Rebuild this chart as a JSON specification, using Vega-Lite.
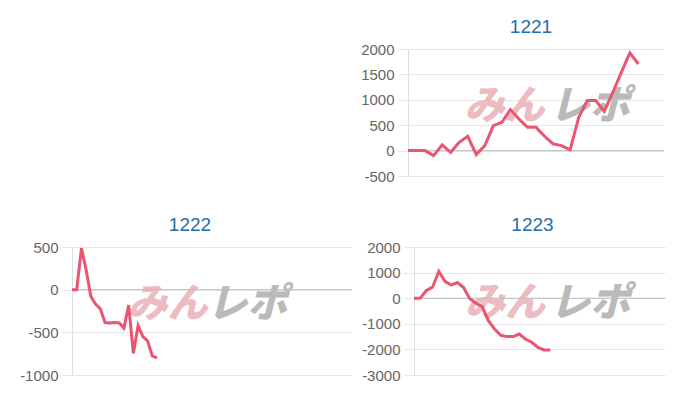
{
  "$schema": "https://vega.github.io/schema/vega-lite/v6.json",
  "background": "white",
  "padding": {"left": 19, "top": 17, "right": 5, "bottom": 5},
  "config": {
    "view": {"stroke": null},
    "axis": {
      "labelFont": "Liberation Sans",
      "labelFontSize": 15,
      "labelColor": "#666666",
      "domainColor": "#dedede",
      "gridColor": "#e6e6e6",
      "tickColor": "#e6e6e6",
      "grid": true,
      "tickSize": 10,
      "labelPadding": 4,
      "labelOverlap": false,
      "labelExpr": "'' + datum.value",
      "title": null
    },
    "title": {
      "font": "Liberation Sans",
      "fontSize": 19,
      "fontWeight": "normal",
      "color": "#1e6fab",
      "baseline": "alphabetic",
      "offset": 5.5,
      "frame": "group",
      "anchor": "middle"
    }
  },
  "datasets": {
    "d1221": [
      {"i": 0, "v": 0}, {"i": 1, "v": 0}, {"i": 2, "v": 0}, {"i": 3, "v": -98},
      {"i": 4, "v": 111}, {"i": 5, "v": -33}, {"i": 6, "v": 164}, {"i": 7, "v": 282},
      {"i": 8, "v": -79}, {"i": 9, "v": 98}, {"i": 10, "v": 492}, {"i": 11, "v": 557},
      {"i": 12, "v": 807}, {"i": 13, "v": 623}, {"i": 14, "v": 459}, {"i": 15, "v": 459},
      {"i": 16, "v": 282}, {"i": 17, "v": 131}, {"i": 18, "v": 98}, {"i": 19, "v": 13},
      {"i": 20, "v": 650}, {"i": 21, "v": 984}, {"i": 22, "v": 984}, {"i": 23, "v": 770},
      {"i": 24, "v": 1148}, {"i": 25, "v": 1541}, {"i": 26, "v": 1921}, {"i": 27, "v": 1705}
    ],
    "d1222": [
      {"i": 0, "v": 0}, {"i": 1, "v": 0}, {"i": 2, "v": 485}, {"i": 3, "v": 230},
      {"i": 4, "v": -80}, {"i": 5, "v": -170}, {"i": 6, "v": -225}, {"i": 7, "v": -385},
      {"i": 8, "v": -390}, {"i": 9, "v": -385}, {"i": 10, "v": -390}, {"i": 11, "v": -450},
      {"i": 12, "v": -180}, {"i": 13, "v": -745}, {"i": 14, "v": -420}, {"i": 15, "v": -550},
      {"i": 16, "v": -600}, {"i": 17, "v": -775}, {"i": 18, "v": -800}
    ],
    "d1223": [
      {"i": 0, "v": 0}, {"i": 1, "v": 0}, {"i": 2, "v": 300}, {"i": 3, "v": 430},
      {"i": 4, "v": 1050}, {"i": 5, "v": 660}, {"i": 6, "v": 510}, {"i": 7, "v": 610},
      {"i": 8, "v": 420}, {"i": 9, "v": -20}, {"i": 10, "v": -200}, {"i": 11, "v": -330},
      {"i": 12, "v": -880}, {"i": 13, "v": -1200}, {"i": 14, "v": -1450}, {"i": 15, "v": -1500},
      {"i": 16, "v": -1500}, {"i": 17, "v": -1400}, {"i": 18, "v": -1600}, {"i": 19, "v": -1720},
      {"i": 20, "v": -1920}, {"i": 21, "v": -2020}, {"i": 22, "v": -2020}
    ]
  },
  "spacing": 31,
  "vconcat": [
    {
      "spacing": 8,
      "hconcat": [
        {
          "width": 280,
          "height": 127,
          "view": {"fill": "white", "stroke": null},
          "data": {"values": [{}]},
          "mark": {"type": "point", "opacity": 0},
          "encoding": {}
        },
        {
          "width": 256,
          "height": 127,
          "title": {"text": "1221", "dx": -5},
          "layer": [
            {
              "data": {"values": [{}]},
              "mark": {"type": "text", "color": "#ecbcc0", "font": "Noto Sans CJK JP", "fontSize": 40, "fontWeight": 900, "fontStyle": "italic", "align": "center", "baseline": "middle"},
              "encoding": {
                "x": {"datum": 11.3, "type": "quantitative", "scale": {"domain": [0, 30], "nice": false, "zero": false}, "axis": null},
                "y": {"datum": 860, "type": "quantitative", "scale": {"domain": [-500, 2000], "nice": false}, "axis": {"values": [-500, 0, 500, 1000, 1500, 2000], "labelOverlap": false}},
                "text": {"value": "みん"}
              }
            },
            {
              "data": {"values": [{}]},
              "mark": {"type": "text", "color": "#bababa", "font": "Noto Sans CJK JP", "fontSize": 40, "fontWeight": 900, "fontStyle": "italic", "align": "center", "baseline": "middle"},
              "encoding": {
                "x": {"datum": 21.3, "type": "quantitative", "scale": {"domain": [0, 30], "nice": false, "zero": false}, "axis": null},
                "y": {"datum": 860, "type": "quantitative", "scale": {"domain": [-500, 2000], "nice": false}, "axis": {"values": [-500, 0, 500, 1000, 1500, 2000], "labelOverlap": false}},
                "text": {"value": "レポ"}
              }
            },
            {
              "data": {"values": [{}]},
              "mark": {"type": "rule", "color": "#bdbdbd"},
              "encoding": {
                "y": {"datum": 0, "type": "quantitative", "scale": {"domain": [-500, 2000], "nice": false}, "axis": {"values": [-500, 0, 500, 1000, 1500, 2000], "labelOverlap": false}}
              }
            },
            {
              "data": {"name": "d1221"},
              "mark": {"type": "line", "color": "#ea5571", "strokeWidth": 3},
              "encoding": {
                "x": {"field": "i", "type": "quantitative", "scale": {"domain": [0, 30], "nice": false, "zero": false}, "axis": null},
                "y": {"field": "v", "type": "quantitative", "scale": {"domain": [-500, 2000], "nice": false}, "axis": {"values": [-500, 0, 500, 1000, 1500, 2000], "labelOverlap": false}}
              }
            }
          ]
        }
      ]
    },
    {
      "spacing": 8,
      "hconcat": [
        {
          "width": 280,
          "height": 128,
          "title": {"text": "1222", "dx": -22},
          "layer": [
            {
              "data": {"values": [{}]},
              "mark": {"type": "text", "color": "#ecbcc0", "font": "Noto Sans CJK JP", "fontSize": 40, "fontWeight": 900, "fontStyle": "italic", "align": "center", "baseline": "middle"},
              "encoding": {
                "x": {"datum": 20.2, "type": "quantitative", "scale": {"domain": [0, 59.3], "nice": false, "zero": false}, "axis": null},
                "y": {"datum": -175, "type": "quantitative", "scale": {"domain": [-1000, 500], "nice": false}, "axis": {"values": [-1000, -500, 0, 500], "labelOverlap": false}},
                "text": {"value": "みん"}
              }
            },
            {
              "data": {"values": [{}]},
              "mark": {"type": "text", "color": "#bababa", "font": "Noto Sans CJK JP", "fontSize": 40, "fontWeight": 900, "fontStyle": "italic", "align": "center", "baseline": "middle"},
              "encoding": {
                "x": {"datum": 37.1, "type": "quantitative", "scale": {"domain": [0, 59.3], "nice": false, "zero": false}, "axis": null},
                "y": {"datum": -175, "type": "quantitative", "scale": {"domain": [-1000, 500], "nice": false}, "axis": {"values": [-1000, -500, 0, 500], "labelOverlap": false}},
                "text": {"value": "レポ"}
              }
            },
            {
              "data": {"values": [{}]},
              "mark": {"type": "rule", "color": "#bdbdbd"},
              "encoding": {
                "y": {"datum": 0, "type": "quantitative", "scale": {"domain": [-1000, 500], "nice": false}, "axis": {"values": [-1000, -500, 0, 500], "labelOverlap": false}}
              }
            },
            {
              "data": {"name": "d1222"},
              "mark": {"type": "line", "color": "#ea5571", "strokeWidth": 3},
              "encoding": {
                "x": {"field": "i", "type": "quantitative", "scale": {"domain": [0, 59.3], "nice": false, "zero": false}, "axis": null},
                "y": {"field": "v", "type": "quantitative", "scale": {"domain": [-1000, 500], "nice": false}, "axis": {"values": [-1000, -500, 0, 500], "labelOverlap": false}}
              }
            }
          ]
        },
        {
          "width": 251,
          "height": 128,
          "title": {"text": "1223", "dx": -7},
          "layer": [
            {
              "data": {"values": [{}]},
              "mark": {"type": "text", "color": "#ecbcc0", "font": "Noto Sans CJK JP", "fontSize": 40, "fontWeight": 900, "fontStyle": "italic", "align": "center", "baseline": "middle"},
              "encoding": {
                "x": {"datum": 14.7, "type": "quantitative", "scale": {"domain": [0, 40.5], "nice": false, "zero": false}, "axis": null},
                "y": {"datum": -235, "type": "quantitative", "scale": {"domain": [-3000, 2000], "nice": false}, "axis": {"values": [-3000, -2000, -1000, 0, 1000, 2000], "labelOverlap": false}},
                "text": {"value": "みん"}
              }
            },
            {
              "data": {"values": [{}]},
              "mark": {"type": "text", "color": "#bababa", "font": "Noto Sans CJK JP", "fontSize": 40, "fontWeight": 900, "fontStyle": "italic", "align": "center", "baseline": "middle"},
              "encoding": {
                "x": {"datum": 28.4, "type": "quantitative", "scale": {"domain": [0, 40.5], "nice": false, "zero": false}, "axis": null},
                "y": {"datum": -235, "type": "quantitative", "scale": {"domain": [-3000, 2000], "nice": false}, "axis": {"values": [-3000, -2000, -1000, 0, 1000, 2000], "labelOverlap": false}},
                "text": {"value": "レポ"}
              }
            },
            {
              "data": {"values": [{}]},
              "mark": {"type": "rule", "color": "#bdbdbd"},
              "encoding": {
                "y": {"datum": 0, "type": "quantitative", "scale": {"domain": [-3000, 2000], "nice": false}, "axis": {"values": [-3000, -2000, -1000, 0, 1000, 2000], "labelOverlap": false}}
              }
            },
            {
              "data": {"name": "d1223"},
              "mark": {"type": "line", "color": "#ea5571", "strokeWidth": 3},
              "encoding": {
                "x": {"field": "i", "type": "quantitative", "scale": {"domain": [0, 40.5], "nice": false, "zero": false}, "axis": null},
                "y": {"field": "v", "type": "quantitative", "scale": {"domain": [-3000, 2000], "nice": false}, "axis": {"values": [-3000, -2000, -1000, 0, 1000, 2000], "labelOverlap": false}}
              }
            }
          ]
        }
      ]
    }
  ]
}
